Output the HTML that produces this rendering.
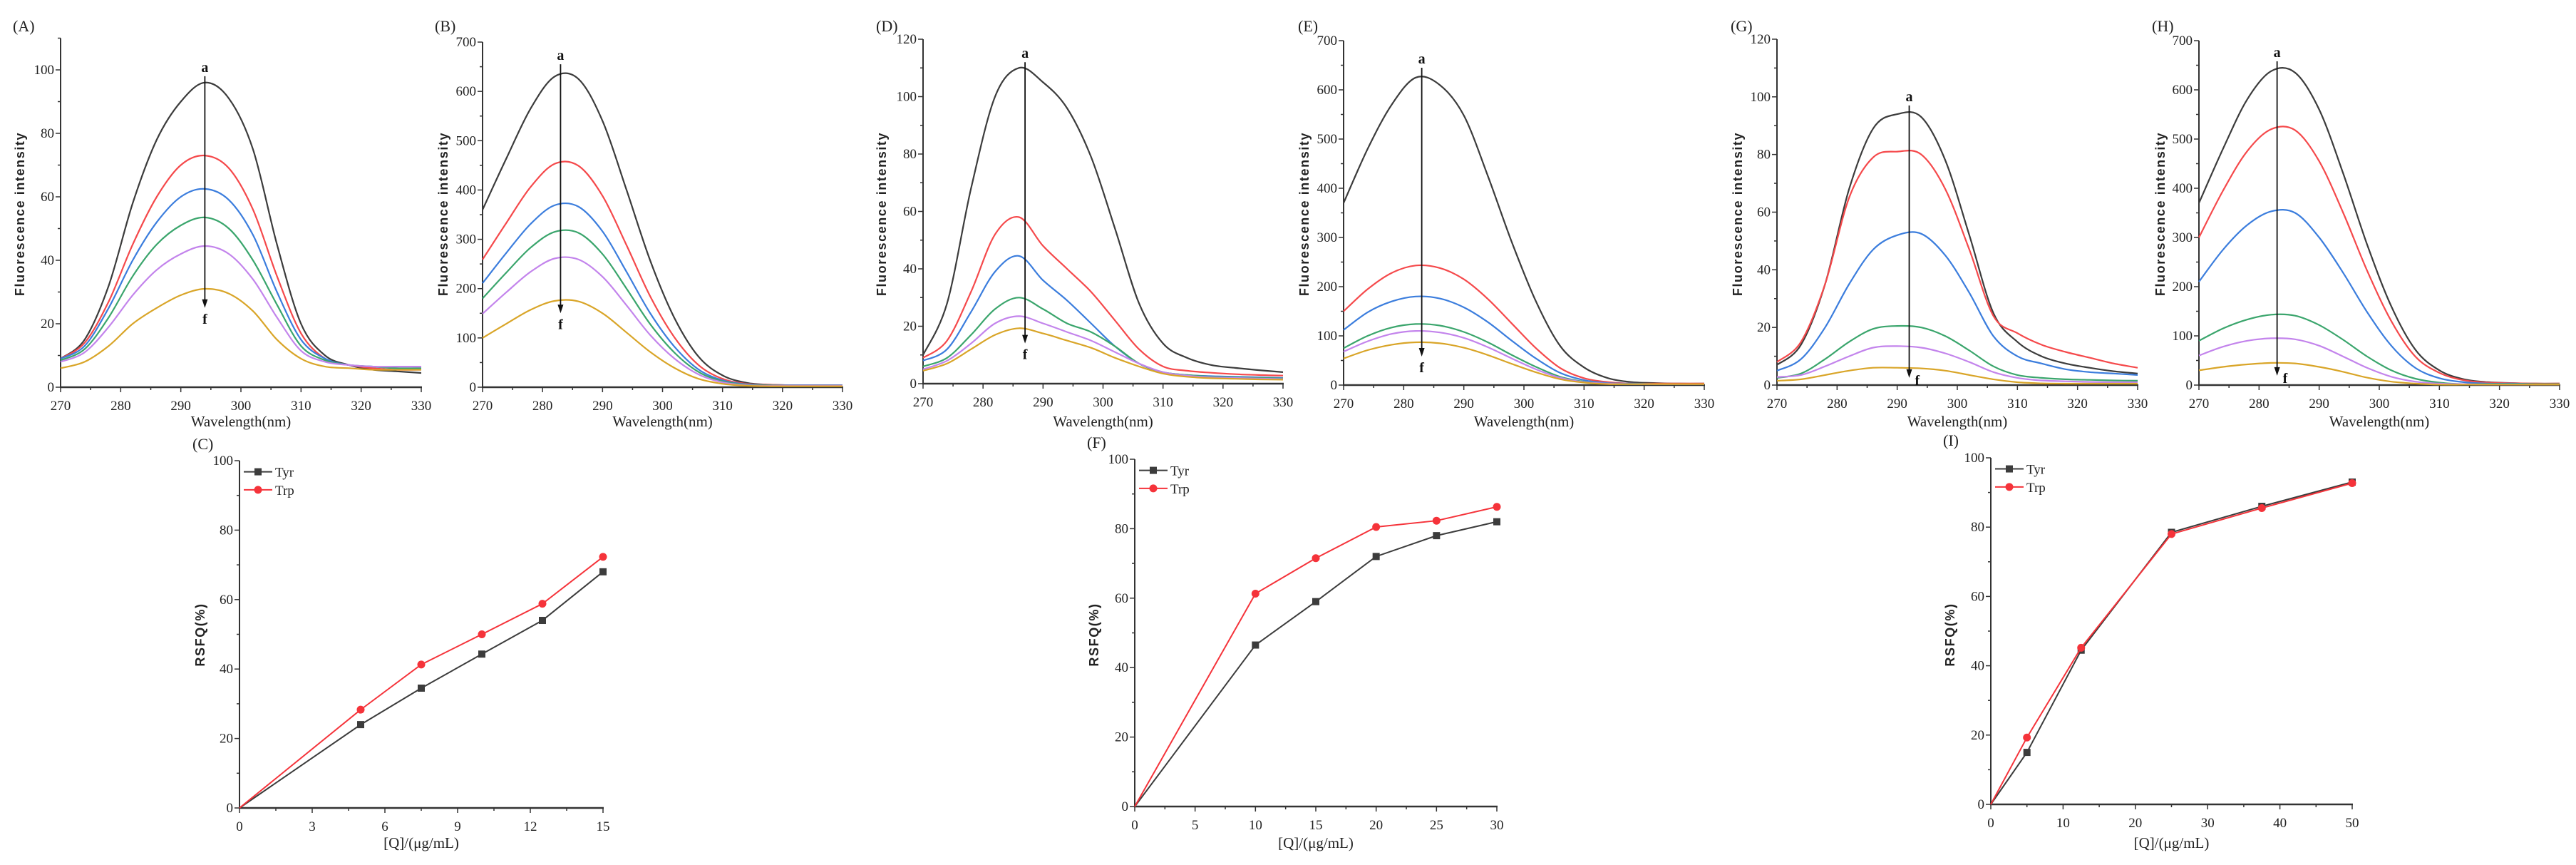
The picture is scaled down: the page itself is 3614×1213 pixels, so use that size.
<!DOCTYPE html>
<html><head><meta charset="utf-8"><title>Fluorescence spectra and RSFQ</title>
<style>
html,body{margin:0;padding:0;background:#fff;}
svg{display:block;}
.tick{font-family:"Liberation Serif",serif;font-size:19px;fill:#222;}
.ttl{font-family:"Liberation Serif",serif;font-size:21px;fill:#222;}
.ylab{font-family:"Liberation Sans",sans-serif;font-size:18px;font-weight:bold;letter-spacing:1.6px;fill:#222;}
.plab{font-family:"Liberation Serif",serif;font-size:22px;fill:#222;}
.ann{font-family:"Liberation Serif",serif;font-size:20px;font-weight:bold;fill:#111;}
</style></head>
<body>
<svg id="fig" xmlns="http://www.w3.org/2000/svg" width="3614" height="1213" viewBox="0 0 3614 1213">
<rect width="3614" height="1213" fill="#fff"/>
</svg>
<script>
// ---------- data ----------
const wl = [270,274,278,282,286,290,294,298,302,306,310,314,318,322,326,330];
const curveColors = ['#3c3c3c','#f5494b','#3b7ddd','#3aa56c','#c384ec','#d9a528'];

const A1 = [9,15,32,58,78,90,96,91,75,45,20,10,7,5.5,5,4.5];
const A2 = [9,14,27,45,60,70,73,69,56,35,17,9,7,6,5.5,5.5];
const A3 = [9,13,25,40,52,60,62.5,59,48,30,15,9,7,6.5,6,6];
const A4 = [8.5,12,22,35,45,51,53.5,50,40,26,13,8.5,7,6.5,6,6];
const A5 = [8,11,19,29,37,42,44.5,42,34,22,11.5,8,7,6.5,6.5,6.5];
const A6 = [6,8,13,20,25,29,31,29.5,24,15,9,6.5,6,5.5,5.5,5.5];

const B1 = [360,465,565,630,625,540,400,255,140,62,24,9,5,4,4,4];
const B2 = [259,334,406,453,449,388,288,183,101,45,17,7,5,4,4,4];
const B3 = [211,273,331,369,366,316,234,149,82,36,14,6,4,4,4,4];
const B4 = [180,233,283,315,313,270,200,127,70,31,12,5,4,3,3,3];
const B5 = [149,193,234,261,259,224,166,105,58,26,10,4,3,3,3,3];
const B6 = [100,129,157,175,174,150,111,71,39,17,7,3,2,2,2,2];

const D1 = [10,28,68,100,110,105,96,79,54,28,14,9,6.5,5.5,4.7,4];
const D2 = [9,15,32,52,58,48,40,32,22,12,6,4.5,3.8,3.3,3,2.8];
const D3 = [8,12,25,39,44.5,36,29,21,13,7,4,3,2.6,2.4,2.2,2];
const D4 = [6,9,17,26,30,26,21,18,13,7,4,3,2.4,2.2,2,1.8];
const D5 = [5,8,14,21,23.5,21,18,15,11,7,4,2.8,2.2,2,1.8,1.6];
const D6 = [4.5,7,12,17,19.3,17.5,15,12.5,9,6,3.5,2.4,1.9,1.7,1.5,1.4];

const E1 = [370,480,570,625,610,548,425,290,170,80,36,14,6,4,3,3];
const E2 = [150,195,228,243,238,215,175,125,75,35,14,6,3,3,3,3];
const E3 = [112,148,170,180,176,158,128,90,54,25,10,4,3,2,2,2];
const E4 = [75,100,117,124,121,108,87,61,37,17,7,3,2,2,2,2];
const E5 = [68,89,104,110,107,96,77,54,32,15,6,3,2,2,2,2];
const E6 = [54,71,82,87,85,76,61,43,26,12,5,2,2,2,2,2];

const G1 = [7,14,35,68,89,94,93,78,52,25,15,10,7.5,6,4.8,4];
const G2 = [8,15,35,65,79,81,80,68,47,24,18,14,11.5,9.5,7.5,6];
const G3 = [5,9,20,35,47,52,52.5,45,32,17,10,7.5,5.5,4.5,4,3.5];
const G4 = [2.5,4,9,15,19.5,20.5,20,17,12,6.5,3.5,2.5,2,1.8,1.6,1.5];
const G5 = [2.8,3.5,6.5,10,13,13.5,13,11,8,4.5,2.5,1.6,1.3,1.1,1,1];
const G6 = [1.5,2,3.5,5,6,6,5.8,5,3.5,2,1,0.6,0.5,0.5,0.5,0.5];

const H1 = [370,480,580,638,635,560,430,285,160,72,30,12,6,4,3,3];
const H2 = [300,395,475,520,518,455,350,232,130,58,25,10,5,4,3,3];
const H3 = [210,275,325,353,350,300,228,148,80,35,14,6,3,3,2,2];
const H4 = [90,115,133,143,141,122,92,58,30,13,5,2,2,2,2,2];
const H5 = [60,78,90,95,93,80,58,35,17,7,3,2,1,1,1,1];
const H6 = [30,37,42,45,44,37,27,15,7,3,1,1,1,1,1,1];

const specXTicks = [270,280,290,300,310,320,330];

const C_conc = [0,5,7.5,10,12.5,15];
const C_tyr = [0,24,34.5,44.3,54,68];
const C_trp = [0,28.3,41.3,50,58.8,72.3];
const C_xticks = [0,3,6,9,12,15];

const F_conc = [0,10,15,20,25,30];
const F_tyr = [0,46.5,59,72,78,82];
const F_trp = [0,61.3,71.5,80.5,82.3,86.3];
const F_xticks = [0,5,10,15,20,25,30];

const I_conc = [0,5,12.5,25,37.5,50];
const I_tyr = [0,15,44.5,78.5,86,93];
const I_trp = [0,19.3,45.2,78,85.5,92.7];
const I_xticks = [0,10,20,30,40,50];

const rsfqYTicks = [0,20,40,60,80,100];

// ---------- helpers ----------
const NS = 'http://www.w3.org/2000/svg';
const svg = document.getElementById('fig');
function mk(tag, attrs, parent){
  const e = document.createElementNS(NS, tag);
  for (const k in attrs) e.setAttribute(k, attrs[k]);
  (parent||svg).appendChild(e);
  return e;
}
function smoothPath(pts){
  let d = 'M'+pts[0][0].toFixed(1)+','+pts[0][1].toFixed(1);
  for (let i=0;i<pts.length-1;i++){
    const p0=pts[Math.max(0,i-1)], p1=pts[i], p2=pts[i+1], p3=pts[Math.min(pts.length-1,i+2)];
    const c1x=p1[0]+(p2[0]-p0[0])/6, c1y=p1[1]+(p2[1]-p0[1])/6;
    const c2x=p2[0]-(p3[0]-p1[0])/6, c2y=p2[1]-(p3[1]-p1[1])/6;
    d+=' C'+c1x.toFixed(1)+','+c1y.toFixed(1)+' '+c2x.toFixed(1)+','+c2y.toFixed(1)+' '+p2[0].toFixed(1)+','+p2[1].toFixed(1);
  }
  return d;
}

function drawAxes(g, c, xTicks, xMinorStep, yTicks, yMinorStep, yTop){
  const xs = v => c.x0 + (v - c.xmin)/(c.xmax - c.xmin)*(c.x1 - c.x0);
  const ys = v => c.y0 - v*c.k;
  const yAxis = mk('line',{x1:c.x0,y1:c.y0,x2:c.x0,y2:ys(yTop),stroke:'#333','stroke-width':2},g);
  
  
  const xAxis = mk('line',{x1:c.x0-1,y1:c.y0,x2:c.x1+1,y2:c.y0,stroke:'#333','stroke-width':2.5},g);
  
  
  for (let v=0; v<=yTop+1e-9; v+=yMinorStep){
    const major = yTicks.some(t=>Math.abs(t-v)<1e-9);
    mk('line',{x1:c.x0,y1:ys(v),x2:c.x0-(major?7:4),y2:ys(v),stroke:'#333','stroke-width':1.5},g);
  }
  yTicks.forEach(t=>{
    const tx = mk('text',{x:c.x0-9,y:ys(t)+6,'text-anchor':'end',class:'tick'},g);
    tx.textContent = t;
    
    
  });
  for (let v=c.xmin; v<=c.xmax+1e-9; v+=xMinorStep){
    const major = xTicks.some(t=>Math.abs(t-v)<1e-9);
    mk('line',{x1:xs(v),y1:c.y0,x2:xs(v),y2:c.y0+(major?7:4),stroke:'#333','stroke-width':1.5},g);
  }
  xTicks.forEach(t=>{
    const tx = mk('text',{x:xs(t),y:c.y0+32,'text-anchor':'middle',class:'tick'},g);
    tx.textContent = t;
    
    
  });
  return {xs, ys};
}

function spectrumPanel(c){
  const g = mk('g',{});
  
  
  const {xs, ys} = drawAxes(g, c, specXTicks, 5, c.yTicks, c.yMinor, c.yTop);
  c.series.forEach((arr,i)=>{
    const pts = wl.map((w,j)=>[xs(w), ys(arr[j])]);
    const p = mk('path',{d:smoothPath(pts),fill:'none',stroke:curveColors[i],'stroke-width':2.2},g);
    
    
  });
  const ax = xs(c.arrow[0]);
  const al = mk('line',{x1:ax,y1:ys(c.arrow[1]),x2:ax,y2:ys(c.arrow[2])-8,stroke:'#111','stroke-width':1.8},g);
  
  
  const ty = ys(c.arrow[2]);
  mk('polygon',{points:(ax-4)+','+(ty-12)+' '+(ax+4)+','+(ty-12)+' '+ax+','+ty,fill:'#111'},g);
  const ta = mk('text',{x:ax,y:ys(c.arrow[1])-6,'text-anchor':'middle',class:'ann'},g);
  ta.textContent='a';
  
  
  const tf = mk('text',{x:ax+(c.fRight?8:0),y:ty+(c.fRight?10:22),'text-anchor':c.fRight?'start':'middle',class:'ann'},g);
  tf.textContent='f';
  
  
  const yl = mk('text',{x:c.ylx,y:300,'text-anchor':'middle',class:'ylab',transform:'rotate(-90 '+c.ylx+' 300)'},g);
  yl.textContent='Fluorescence intensity';
  
  
  const xl = mk('text',{x:(c.x0+c.x1)/2,y:598,'text-anchor':'middle',class:'ttl'},g);
  xl.textContent='Wavelength(nm)';
  
  
  const pl = mk('text',{x:c.plx,y:44,class:'plab'},g);
  pl.textContent='('+c.id+')';
  
  
}

function rsfqPanel(c){
  const g = mk('g',{});
  
  
  const {xs, ys} = drawAxes(g, c, c.xTicks, c.xMinor, rsfqYTicks, 10, 100);
  const ser = [[c.tyr,'#3c3c3c','tyr'],[c.trp,'#f5333a','trp']];
  ser.forEach(s=>{
    const pts = c.conc.map((x,j)=>[xs(x), ys(s[0][j])]);
    const pl = mk('polyline',{points:pts.map(p=>p.join(',')).join(' '),fill:'none',stroke:s[1],'stroke-width':2},g);
    
    
    pts.forEach((p,j)=>{
      if (j===0) return;
      let m;
      if (s[2]==='tyr') m = mk('rect',{x:p[0]-5,y:p[1]-5,width:10,height:10,fill:s[1]},g);
      else m = mk('circle',{cx:p[0],cy:p[1],r:5.5,fill:s[1]},g);
      
      
    });
  });
  const lx = c.x0+6, lyA = ys(96.8), lyB = ys(91.6);
  const lg = mk('g',{},g);
  
  
  mk('line',{x1:lx,y1:lyA,x2:lx+40,y2:lyA,stroke:'#3c3c3c','stroke-width':2},lg);
  mk('rect',{x:lx+15,y:lyA-5,width:10,height:10,fill:'#3c3c3c'},lg);
  const t1 = mk('text',{x:lx+44,y:lyA+7,class:'tick'},lg); t1.textContent='Tyr';
  
  
  mk('line',{x1:lx,y1:lyB,x2:lx+40,y2:lyB,stroke:'#f5333a','stroke-width':2},lg);
  mk('circle',{cx:lx+20,cy:lyB,r:5.5,fill:'#f5333a'},lg);
  const t2 = mk('text',{x:lx+44,y:lyB+7,class:'tick'},lg); t2.textContent='Trp';
  
  
  const yl = mk('text',{x:c.ylx,y:890,'text-anchor':'middle',class:'ylab',transform:'rotate(-90 '+c.ylx+' 890)'},g);
  yl.textContent='RSFQ(%)';
  
  
  const xl = mk('text',{x:(c.x0+c.x1)/2,y:1189,'text-anchor':'middle',class:'ttl'},g);
  xl.textContent='[Q]/(μg/mL)';
  
  
  const pl = mk('text',{x:c.plx,y:c.ply,class:'plab'},g);
  pl.textContent='('+c.id+')';
  
  
}

// ---------- panels ----------
spectrumPanel({id:'A',x0:85,x1:591,xmin:270,xmax:330,y0:543,k:4.45,yTop:110,yTicks:[0,20,40,60,80,100],yMinor:10,
  series:[A1,A2,A3,A4,A5,A6],arrow:[294,98,25],ylx:34,plx:18});
spectrumPanel({id:'B',x0:677,x1:1182,xmin:270,xmax:330,y0:543,k:0.6914,yTop:700,yTicks:[0,100,200,300,400,500,600,700],yMinor:50,
  series:[B1,B2,B3,B4,B5,B6],arrow:[283,655,150],ylx:628,plx:610});
spectrumPanel({id:'D',x0:1295,x1:1800,xmin:270,xmax:330,y0:538,k:4.025,yTop:120,yTicks:[0,20,40,60,80,100,120],yMinor:10,
  series:[D1,D2,D3,D4,D5,D6],arrow:[287,112,14],ylx:1243,plx:1229});
spectrumPanel({id:'E',x0:1885,x1:2391,xmin:270,xmax:330,y0:540,k:0.69,yTop:700,yTicks:[0,100,200,300,400,500,600,700],yMinor:50,
  series:[E1,E2,E3,E4,E5,E6],arrow:[283,645,58],ylx:1836,plx:1821});
spectrumPanel({id:'G',x0:2493,x1:2999,xmin:270,xmax:330,y0:540,k:4.042,yTop:120,yTicks:[0,20,40,60,80,100,120],yMinor:10,
  series:[G1,G2,G3,G4,G5,G6],arrow:[292,97,2.5],fRight:true,ylx:2444,plx:2428});
spectrumPanel({id:'H',x0:3085,x1:3591,xmin:270,xmax:330,y0:540,k:0.69,yTop:700,yTicks:[0,100,200,300,400,500,600,700],yMinor:50,
  series:[H1,H2,H3,H4,H5,H6],arrow:[283,658,19],fRight:true,ylx:3037,plx:3019});

rsfqPanel({id:'C',x0:336,x1:846,xmin:0,xmax:15,y0:1133,k:4.87,xTicks:C_xticks,xMinor:1.5,
  conc:C_conc,tyr:C_tyr,trp:C_trp,ylx:287,plx:270,ply:630});
rsfqPanel({id:'F',x0:1592,x1:2100,xmin:0,xmax:30,y0:1131,k:4.87,xTicks:F_xticks,xMinor:2.5,
  conc:F_conc,tyr:F_tyr,trp:F_trp,ylx:1541,plx:1525,ply:628});
rsfqPanel({id:'I',x0:2793,x1:3300,xmin:0,xmax:50,y0:1128,k:4.86,xTicks:I_xticks,xMinor:5,
  conc:I_conc,tyr:I_tyr,trp:I_trp,ylx:2742,plx:2726,ply:625});
</script>
</body></html>
